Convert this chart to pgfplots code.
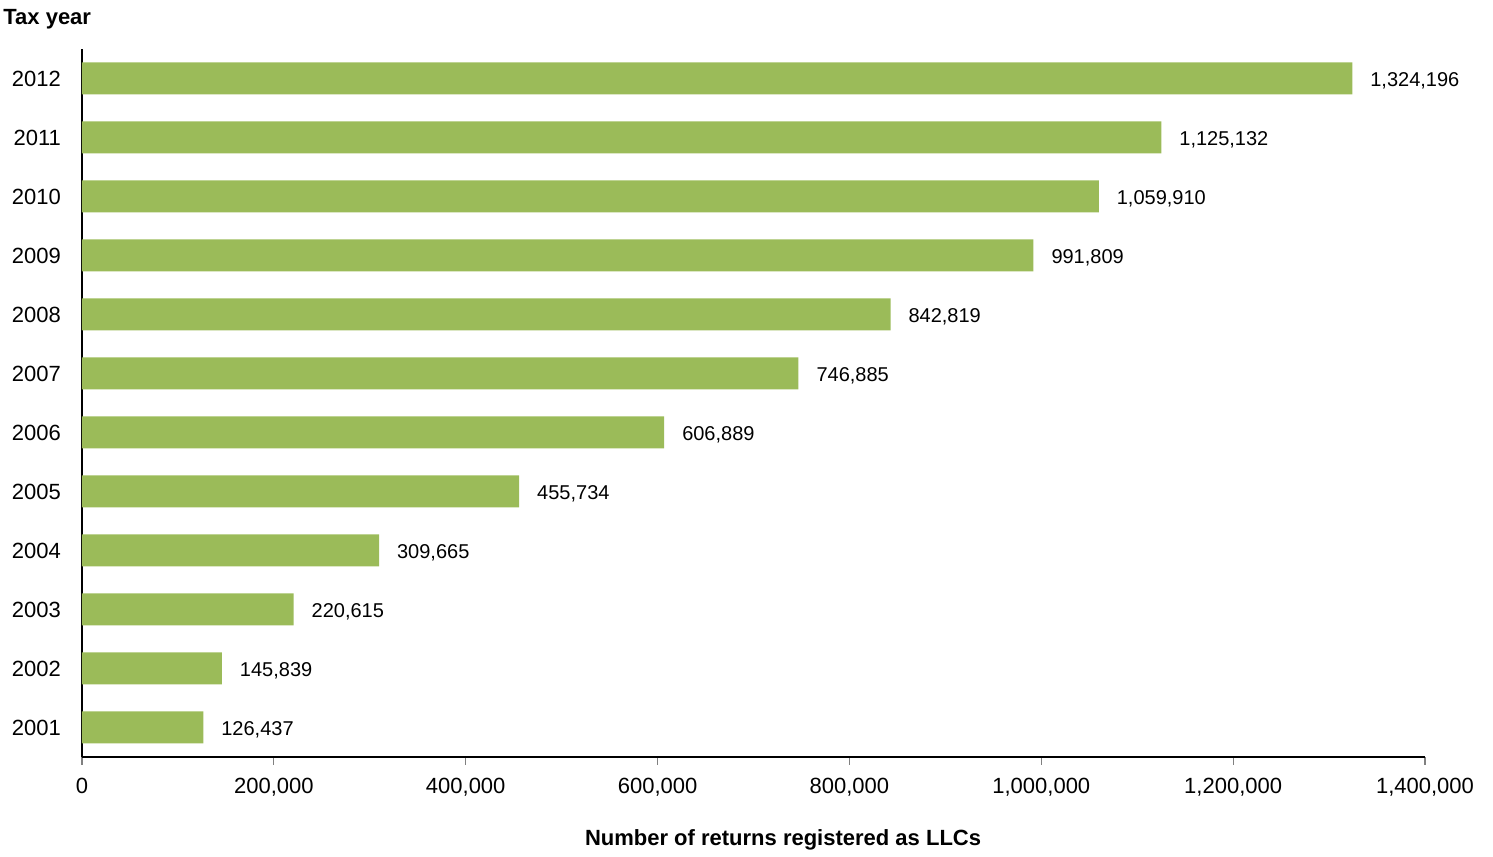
\documentclass[border=0pt]{standalone}
\usepackage{pgfplots}
\pgfplotsset{compat=1.18}
\usepackage{fontspec}
\setmainfont{Liberation Sans}
\definecolor{barg}{HTML}{9BBB59}
\begin{document}
\begin{tikzpicture}
\begin{axis}[
  scale only axis,
  width=671.5pt, height=354pt,
  xbar, bar width=16pt,
  xmin=0, xmax=1400000,
  ymin=-0.5, ymax=11.5,
  axis x line*=bottom, axis y line*=left,
  axis line style={-, black, line width=0.6pt},
  xtick={0,200000,...,1400000},
  ytick={0,...,11},
  yticklabels={2001,2002,2003,2004,2005,2006,2007,2008,2009,2010,2011,2012},
  scaled x ticks=false,
  /pgf/number format/.cd, fixed, 1000 sep={,}, assume math mode=true, /pgfplots/.cd,
  tick label style={font=\fontsize{11}{13}\selectfont},
  xticklabel style={yshift=-3pt},
  yticklabel style={xshift=-3pt},
  tick align=outside,
  major tick length=4pt,
  xtick style={gray, line width=0.6pt},
  ytick style={draw=none},
  nodes near coords,
  nodes near coords style={font=\fontsize{10}{12}\selectfont, anchor=west, xshift=5.5pt, yshift=-1pt, /pgf/number format/.cd, fixed, 1000 sep={,}, assume math mode=true},
  clip=false,
]
\addplot[fill=barg, draw=none] coordinates {
(126437,0) (145839,1) (220615,2) (309665,3) (455734,4) (606889,5)
(746885,6) (842819,7) (991809,8) (1059910,9) (1125132,10) (1324196,11)};
\coordinate (bl) at (rel axis cs:0,0);
\coordinate (tr) at (rel axis cs:1,1);
\node[font=\bfseries\fontsize{11}{13}\selectfont, anchor=center] at (rel axis cs:0.522,0) [yshift=-41.5pt] {Number of returns registered as LLCs};
\end{axis}
\node[font=\bfseries\fontsize{11}{13}\selectfont, anchor=west, inner sep=0pt] at ([shift={(-39.5pt,15pt)}]bl |- tr) {Tax year};
\path ([shift={(-41pt,-46.5pt)}]bl) rectangle ([shift={(34pt,24.5pt)}]tr);
\end{tikzpicture}
\end{document}
